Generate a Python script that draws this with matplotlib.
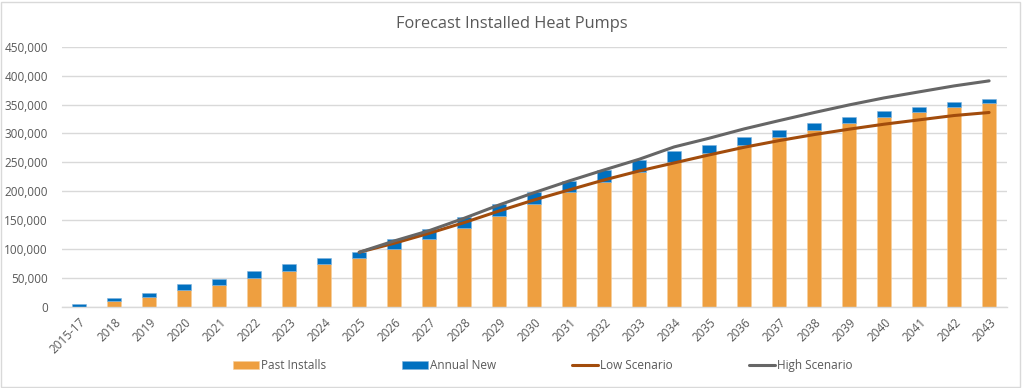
"""Forecast Installed Heat Pumps - barras apiladas con escenarios bajo/alto."""

import matplotlib

matplotlib.use("Agg")
import matplotlib.pyplot as plt
import numpy as np
from matplotlib.patches import Rectangle
from matplotlib.ticker import FuncFormatter, MultipleLocator

years = ["2015-17"] + [str(y) for y in range(2018, 2044)]

past_installs = [
    0, 11500, 18300, 29400, 39000, 50600, 63200, 74200, 84600,
    101200, 118500, 137500, 158200, 178900, 198600, 216900, 234200,
    251500, 265900, 280300, 293600, 306200, 317700, 328100, 337300,
    345300, 352200,
]
annual_new = [
    5700, 5100, 6400, 10300, 10400, 12100, 11600, 10400, 10900,
    16200, 16700, 18900, 20200, 20200, 19500, 20200, 20200,
    17900, 13900, 14400, 12600, 12700, 11500, 10400, 9200,
    8600, 7500,
]

# escenarios desde 2025
scen_years = [str(y) for y in range(2025, 2044)]
low_scenario = [
    95000, 110500, 127800, 146200, 166300, 185300, 202600, 219800,
    235300, 249200, 263000, 276200, 287700, 298100, 307400, 316000,
    323500, 331000, 336200,
]
high_scenario = [
    95000, 114500, 132300, 153700, 176700, 197900, 218100, 237100,
    255500, 276800, 291800, 307900, 322200, 336100, 349300, 361400,
    371800, 382100, 390800,
]

ORANGE = "#EE9F40"
BLUE = "#0070C0"
LOW_C = "#A24C0C"
HIGH_C = "#666666"
TEXT_C = "#595959"
GRID_C = "#D9D9D9"

plt.rcParams["font.family"] = ["Open Sans", "DejaVu Sans"]

fig = plt.figure(figsize=(10.24, 3.88), dpi=100)
ax = fig.add_axes([0.0603, 0.208, 0.9227, 0.672])

x = np.arange(len(years))
b1 = ax.bar(x, past_installs, width=0.4, color=ORANGE, edgecolor="#F7CE9A",
            linewidth=0.4, label="Past Installs", zorder=2)
b2 = ax.bar(x, annual_new, width=0.4, bottom=past_installs, color=BLUE,
            edgecolor="#7FB3DD", linewidth=0.4, label="Annual New", zorder=2)

xs = np.array([years.index(y) for y in scen_years])
l1, = ax.plot(xs, low_scenario, color=LOW_C, linewidth=2.2, label="Low Scenario",
              zorder=3, solid_capstyle="round")
l2, = ax.plot(xs, high_scenario, color=HIGH_C, linewidth=2.2, label="High Scenario",
              zorder=3, solid_capstyle="round")

ax.set_xlim(-0.5, len(years) - 0.5)
ax.set_ylim(0, 450000)
ax.yaxis.set_major_locator(MultipleLocator(50000))
ax.yaxis.set_major_formatter(FuncFormatter(lambda v, _: f"{int(v):,}"))
ax.grid(axis="y", color=GRID_C, linewidth=1.0, zorder=0)
ax.set_axisbelow(True)

for s in ["top", "right", "left"]:
    ax.spines[s].set_visible(False)
ax.spines["bottom"].set_color(GRID_C)
ax.spines["bottom"].set_linewidth(1.0)

ax.set_xticks(x)
ax.set_xticklabels(years, rotation=45, ha="right", rotation_mode="anchor")
ax.tick_params(axis="both", length=0, colors=TEXT_C, labelsize=8.5)
ax.tick_params(axis="x", pad=6)
ax.tick_params(axis="y", pad=10)

fig.text(0.5, 0.937, "Forecast Installed Heat Pumps", ha="center", va="center",
         fontsize=11.8, color=TEXT_C)

fig.legend([b1, b2, l1, l2],
           ["Past Installs", "Annual New", "Low Scenario", "High Scenario"],
           loc="center", bbox_to_anchor=(0.53, 0.057), ncol=4,
           frameon=False, fontsize=8.5, labelcolor=TEXT_C, columnspacing=6.4,
           handlelength=2.2, handleheight=0.6, handletextpad=0.2)

fig.patches.append(Rectangle((0.001, 0.003), 0.995, 0.993, transform=fig.transFigure,
                             fill=False, edgecolor="#D9D9D9", linewidth=1.0))

fig.savefig("out.png", dpi=100)
